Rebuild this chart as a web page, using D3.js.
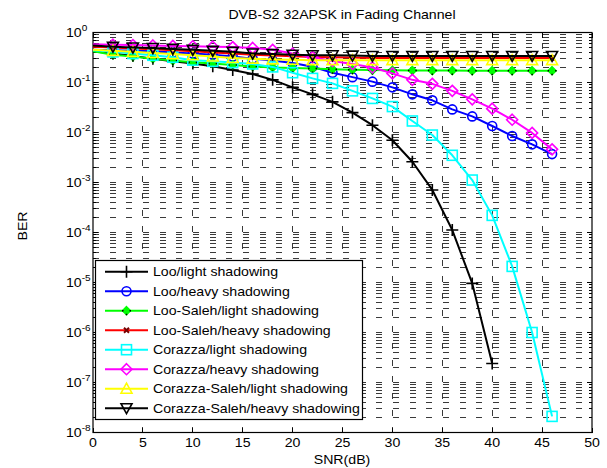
<!DOCTYPE html>
<html>
<head>
<meta charset="utf-8">
<script src="https://cdn.jsdelivr.net/npm/d3@7"></script>
<style>
  body { margin: 0; background: #fff; }
  svg { display: block; font-family: Arial, "Liberation Sans", sans-serif; }
</style>
</head>
<body>
<div id="chart"></div>
<script>
// chart box (pixels)
const W = 607, H = 468;
const PLOT = { left: 93, right: 592, top: 32.5, bottom: 432.5 };
const SX = 1.18; // the reference text is slightly stretched horizontally

// data
const snr = [0, 2, 4, 6, 8, 10, 12, 14, 16, 18, 20, 22, 24, 26, 28, 30, 32, 34, 36, 38, 40, 42, 44, 46];
const snrLoo = [0, 2, 4, 6, 8, 10, 12, 14, 16, 18, 20, 22, 24, 26, 28, 30, 32, 34, 36, 38, 40];

const looLight = [0.42, 0.38, 0.34, 0.30, 0.265, 0.24, 0.212, 0.178, 0.148, 0.113, 0.080, 0.058, 0.041,
  0.025, 0.014, 0.0070, 0.0026, 7.1e-4, 1.12e-4, 9.6e-6, 2.4e-7];
const looHeavy = [0.45, 0.44, 0.43, 0.42, 0.40, 0.38, 0.36, 0.33, 0.30, 0.275, 0.245, 0.207, 0.157,
  0.128, 0.104, 0.080, 0.058, 0.044, 0.029, 0.021, 0.0135, 0.0085, 0.0058, 0.0037];
const looSalehLight = [0.42, 0.36, 0.33, 0.30, 0.275, 0.255, 0.24, 0.225, 0.21, 0.20, 0.195, 0.19, 0.185,
  0.18, 0.177, 0.175, 0.174, 0.173, 0.173, 0.172, 0.172, 0.172, 0.172, 0.172];
const looSalehHeavy = [0.52, 0.50, 0.48, 0.46, 0.44, 0.42, 0.40, 0.38, 0.36, 0.345, 0.335, 0.325, 0.32,
  0.315, 0.31, 0.31, 0.31, 0.31, 0.31, 0.31, 0.31, 0.31, 0.31, 0.31];
const corazzaLight = [0.44, 0.41, 0.38, 0.35, 0.32, 0.28, 0.265, 0.25, 0.235, 0.205, 0.157, 0.121, 0.096,
  0.068, 0.048, 0.033, 0.017, 0.0089, 0.0035, 0.00112, 2.2e-4, 2.1e-5, 1.0e-6, 2.1e-8];
const corazzaHeavy = [0.58, 0.57, 0.56, 0.55, 0.54, 0.53, 0.52, 0.51, 0.49, 0.45, 0.38, 0.32, 0.27,
  0.235, 0.20, 0.152, 0.113, 0.094, 0.068, 0.046, 0.030, 0.018, 0.0098, 0.0046];
const corazzaSalehLight = [0.45, 0.43, 0.41, 0.39, 0.37, 0.35, 0.33, 0.31, 0.30, 0.29, 0.285, 0.28, 0.28,
  0.28, 0.28, 0.28, 0.28, 0.28, 0.28, 0.28, 0.28, 0.28, 0.28, 0.28];
const corazzaSalehHeavy = [0.55, 0.52, 0.50, 0.49, 0.47, 0.45, 0.43, 0.41, 0.38, 0.37, 0.36, 0.35, 0.35,
  0.345, 0.34, 0.34, 0.34, 0.34, 0.34, 0.34, 0.34, 0.34, 0.34, 0.34];

const legendNames = [
  "Loo/light shadowing", "Loo/heavy shadowing", "Loo-Saleh/light shadowing", "Loo-Saleh/heavy shadowing",
  "Corazza/light shadowing", "Corazza/heavy shadowing", "Corazza-Saleh/light shadowing", "Corazza-Saleh/heavy shadowing"
];
const xTicks = [0, 5, 10, 15, 20, 25, 30, 35, 40, 45, 50];
const yExponents = [0, -1, -2, -3, -4, -5, -6, -7, -8];

// series table built from the arrays above
const series = [
  { name: legendNames[0], xs: snrLoo, ys: looLight, color: "#000000", marker: "plus" },
  { name: legendNames[1], xs: snr, ys: looHeavy, color: "#0000ff", marker: "circle" },
  { name: legendNames[2], xs: snr, ys: looSalehLight, color: "#00ff00", marker: "star" },
  { name: legendNames[3], xs: snr, ys: looSalehHeavy, color: "#ff0000", marker: "cross" },
  { name: legendNames[4], xs: snr, ys: corazzaLight, color: "#00ffff", marker: "square" },
  { name: legendNames[5], xs: snr, ys: corazzaHeavy, color: "#ff00ff", marker: "diamond" },
  { name: legendNames[6], xs: snr, ys: corazzaSalehLight, color: "#ffff00", marker: "triUp" },
  { name: legendNames[7], xs: snr, ys: corazzaSalehHeavy, color: "#000000", marker: "triDown" },
];

const svg = d3.select("#chart").append("svg").attr("width", W).attr("height", H);

const x = d3.scaleLinear().domain([0, 50]).range([PLOT.left, PLOT.right]);
const y = d3.scaleLog().domain([1e-8, 1]).range([PLOT.bottom, PLOT.top]);

// text helper: stretched text placed at (tx, ty)
const addText = (parent, tx, ty, str, anchor = "middle", size = 12, rot = 0) => {
  const g = parent.append("g")
    .attr("transform", `translate(${tx},${ty}) rotate(${rot}) scale(${SX},1)`);
  return g.append("text").attr("text-anchor", anchor).attr("font-size", size)
    .attr("fill", "#000").text(str);
};

// grid lines
const grid = svg.append("g").attr("stroke", "#3a3a3a").attr("stroke-width", 1)
  .attr("stroke-dasharray", "6,10.67").attr("fill", "none").attr("shape-rendering", "crispEdges");

const logTicks = [];
yExponents.forEach((e) => {
  for (let m = 1; m <= 9; m++) {
    const v = m * Math.pow(10, e);
    if (v <= 1 && v >= 1e-8) logTicks.push({ v, major: m === 1 });
  }
});

grid.selectAll("line.h").data(logTicks.filter((d) => d.v < 1 && d.v > 1e-8)).enter().append("line")
  .attr("x1", PLOT.left).attr("x2", PLOT.right)
  .attr("y1", (d) => y(d.v)).attr("y2", (d) => y(d.v));

grid.selectAll("line.v").data(xTicks.slice(1, -1)).enter().append("line")
  .attr("x1", (d) => x(d)).attr("x2", (d) => x(d))
  .attr("y1", PLOT.bottom).attr("y2", PLOT.top);

// ticks (inside, on all sides)
const ticks = svg.append("g").attr("stroke", "#000").attr("stroke-width", 1).attr("shape-rendering", "crispEdges");
xTicks.forEach((t) => {
  ticks.append("line").attr("x1", x(t)).attr("x2", x(t)).attr("y1", PLOT.bottom).attr("y2", PLOT.bottom - 5);
  ticks.append("line").attr("x1", x(t)).attr("x2", x(t)).attr("y1", PLOT.top).attr("y2", PLOT.top + 5);
});
logTicks.forEach((d) => {
  const len = d.major ? 5 : 3;
  ticks.append("line").attr("x1", PLOT.left).attr("x2", PLOT.left + len).attr("y1", y(d.v)).attr("y2", y(d.v));
  ticks.append("line").attr("x1", PLOT.right).attr("x2", PLOT.right - len).attr("y1", y(d.v)).attr("y2", y(d.v));
});

// axes box
svg.append("rect").attr("x", PLOT.left).attr("y", PLOT.top)
  .attr("width", PLOT.right - PLOT.left).attr("height", PLOT.bottom - PLOT.top)
  .attr("fill", "none").attr("stroke", "#000").attr("stroke-width", 1.2);

// tick labels
xTicks.forEach((t) => addText(svg, x(t), 446.5, String(t)));
yExponents.forEach((e) => {
  const g = svg.append("g").attr("transform", `translate(66,${y(Math.pow(10, e)) + 4.5}) scale(${SX},1)`);
  const txt = g.append("text").attr("font-size", 12).attr("fill", "#000");
  txt.append("tspan").text("10");
  txt.append("tspan").attr("font-size", 8.5).attr("dy", -6).text(String(e));
});

addText(svg, 342, 18.5, "DVB-S2 32APSK in Fading Channel");
addText(svg, 342, 464, "SNR(dB)");
addText(svg, 26.5, 226, "BER", "middle", 12, -90);

// marker drawing
const drawMarker = (g, type, color, cx, cy) => {
  const m = g.append("g").attr("transform", `translate(${cx},${cy})`)
    .attr("fill", "none").attr("stroke", color).attr("stroke-width", 1.6);
  switch (type) {
    case "plus":
      m.append("path").attr("d", "M-6,0H6M0,-6V6");
      break;
    case "circle":
      m.append("circle").attr("r", 4.5);
      break;
    case "square":
      m.append("rect").attr("x", -5).attr("y", -5).attr("width", 10).attr("height", 10);
      break;
    case "diamond":
      m.append("path").attr("d", "M0,-5.5L5.5,0L0,5.5L-5.5,0Z");
      break;
    case "triUp":
      m.append("path").attr("d", "M0,-5.5L5.5,4.5L-5.5,4.5Z");
      break;
    case "triDown":
      m.append("path").attr("d", "M0,5.5L5.5,-4.5L-5.5,-4.5Z");
      break;
    case "star":
      m.append("path").attr("d", "M0,-4L4,0L0,4L-4,0Z").attr("fill", color);
      m.append("path").attr("d", "M-4.5,0H-3M3,0H4.5M0,3V4.5").attr("stroke", "#000").attr("stroke-width", 1.5);
      break;
    case "cross":
      m.append("path").attr("d", "M-2.5,-2.5L2.5,2.5M-2.5,2.5L2.5,-2.5").attr("stroke", "#700").attr("stroke-width", 2);
      break;
    default:
  }
};

// curves
const line = d3.line().x((d) => x(d[0])).y((d) => y(d[1]));
const plot = svg.append("g");
series.forEach((s) => {
  const pts = s.xs.map((v, i) => [v, s.ys[i]]);
  const g = plot.append("g");
  g.append("path").attr("d", line(pts)).attr("fill", "none")
    .attr("stroke", s.color).attr("stroke-width", 2).attr("stroke-linejoin", "round");
  // markers from the 2 dB point onward (the 0 dB marker sits on the frame in the reference)
  pts.slice(1).forEach((p) => drawMarker(g, s.marker, s.color, x(p[0]), y(p[1])));
});

// legend
const LEG = { x: 95.5, y: 260.5, w: 267, h: 159, row0: 271.7, step: 19.5 };
const legend = svg.append("g");
legend.append("rect").attr("x", LEG.x).attr("y", LEG.y).attr("width", LEG.w).attr("height", LEG.h)
  .attr("fill", "#fff").attr("stroke", "#000").attr("stroke-width", 1.2);
series.forEach((s, i) => {
  const ly = LEG.row0 + i * LEG.step;
  legend.append("line").attr("x1", 105).attr("x2", 148).attr("y1", ly).attr("y2", ly)
    .attr("stroke", s.color).attr("stroke-width", 2);
  drawMarker(legend, s.marker, s.color, 126.5, ly);
  addText(legend, 153, ly + 4.3, s.name, "start");
});
</script>
</body>
</html>
